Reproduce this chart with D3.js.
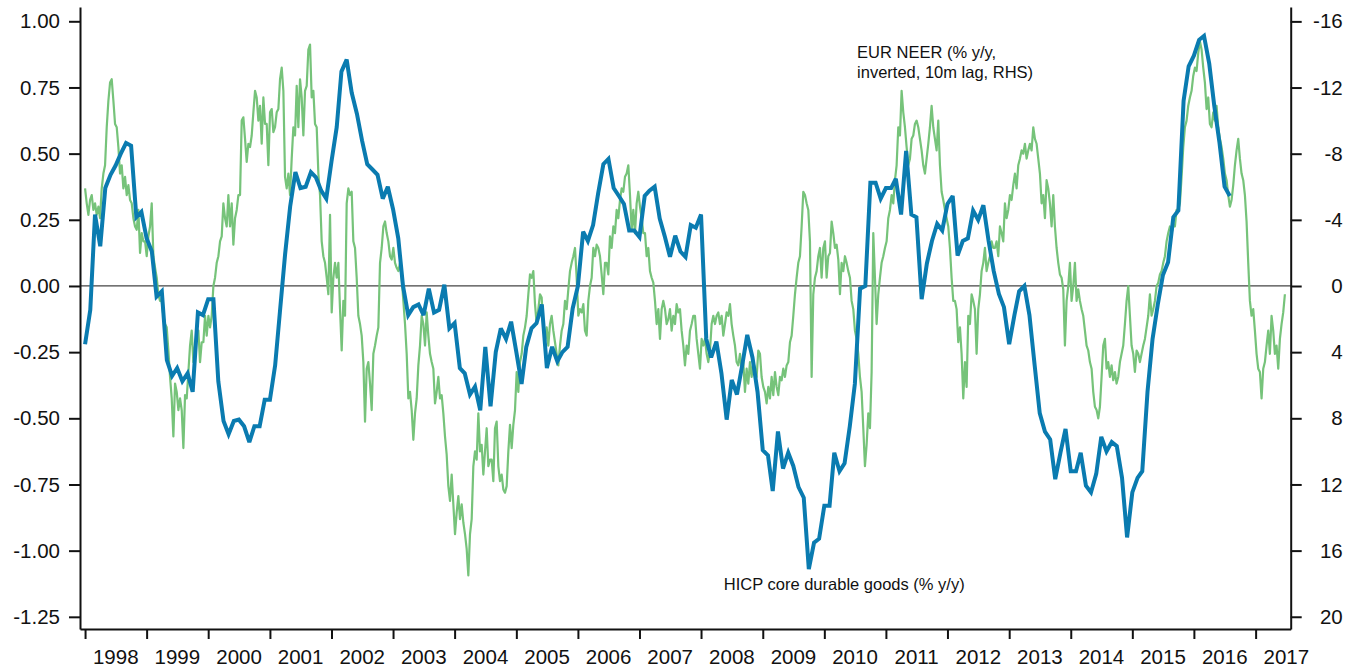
<!DOCTYPE html>
<html>
<head>
<meta charset="utf-8">
<script src="https://cdn.jsdelivr.net/npm/d3@7"></script>
<style>
body{margin:0;background:#fff;}
text{font-family:"Liberation Sans",Arial,sans-serif;fill:#111;}
</style>
</head>
<body>
<div id="chartdiv"></div>
<script>
var svgW=1348,svgH=670;
var plotL=80,plotR=1290.7,plotT=7,plotB=629;
var bluecolor="#0a7bb0",greencolor="#76c37a",axiscolor="#111";

// HICP core durable goods (% y/y), monthly from Jan 1998
var hicpStart=new Date(1998,0,1);
var hicpDurable=[
 -0.22,-0.09,0.27,0.15,0.37,0.42,0.455,0.50,0.54,0.53,0.26,0.28,
 0.18,0.13,-0.04,-0.02,-0.28,-0.34,-0.31,-0.36,-0.33,-0.40,-0.10,-0.11,
 -0.05,-0.05,-0.36,-0.51,-0.56,-0.51,-0.505,-0.53,-0.59,-0.53,-0.53,-0.43,
 -0.43,-0.30,-0.10,0.12,0.30,0.43,0.37,0.375,0.43,0.41,0.36,0.33,
 0.47,0.60,0.81,0.855,0.73,0.65,0.55,0.46,0.44,0.42,0.33,0.375,
 0.29,0.18,0.0,-0.11,-0.08,-0.07,-0.11,-0.01,-0.10,-0.09,0.005,-0.16,
 -0.14,-0.31,-0.33,-0.41,-0.38,-0.47,-0.23,-0.455,-0.25,-0.16,-0.20,-0.135,
 -0.25,-0.37,-0.23,-0.16,-0.14,-0.07,-0.31,-0.23,-0.285,-0.25,-0.23,-0.085,
 0.0,0.205,0.17,0.23,0.35,0.46,0.48,0.37,0.34,0.31,0.21,0.21,
 0.185,0.34,0.36,0.375,0.255,0.185,0.11,0.19,0.13,0.11,0.23,0.22,
 0.27,-0.20,-0.27,-0.21,-0.33,-0.505,-0.355,-0.41,-0.30,-0.185,-0.27,-0.40,
 -0.62,-0.64,-0.775,-0.55,-0.69,-0.63,-0.68,-0.76,-0.80,-1.07,-0.97,-0.955,
 -0.83,-0.83,-0.63,-0.70,-0.67,-0.53,-0.37,-0.01,0.0,0.39,0.39,0.33,
 0.37,0.37,0.405,0.27,0.51,0.27,0.26,-0.05,0.085,0.17,0.235,0.21,
 0.31,0.34,0.115,0.17,0.18,0.285,0.25,0.305,0.17,0.057,-0.03,-0.08,
 -0.22,-0.11,-0.02,0.0,-0.11,-0.30,-0.48,-0.55,-0.58,-0.73,-0.63,-0.54,
 -0.70,-0.70,-0.63,-0.755,-0.78,-0.71,-0.57,-0.625,-0.59,-0.605,-0.725,-0.95,
 -0.78,-0.725,-0.70,-0.40,-0.20,-0.07,0.04,0.09,0.26,0.285,0.70,0.83,
 0.87,0.93,0.945,0.84,0.68,0.54,0.375,0.34
];

// EUR NEER (% y/y, inverted, 10m lag), RHS units, read every ~10 days from 1 Jan 1998
var neerStart=new Date(1998,0,1);
var neerStepDays=9.88;
var neerInv=[
 -5.9,-5.0,-4.3,-5.2,-5.5,-4.6,-5.0,-4.3,-4.8,-4.1,
 -5.9,-6.8,-7.3,-9.6,-11.2,-12.3,-12.5,-11.2,-9.8,-9.6,
 -8.4,-6.8,-7.3,-5.9,-6.6,-5.5,-6.1,-5.2,-5.0,-4.1,
 -3.6,-3.4,-4.6,-2.0,-3.2,-2.7,-2.7,-1.8,-3.0,-3.6,
 -5.0,-1.8,-1.1,-0.5,0.5,0.9,0.9,1.8,2.3,2.5,
 3.9,5.5,6.8,9.1,5.9,6.4,7.5,6.8,7.5,9.8,
 6.6,6.8,5.2,3.6,2.7,4.6,3.6,3.2,2.7,4.6,
 3.4,3.4,1.8,3.0,1.8,2.5,1.8,0,-0.5,-1.4,
 -1.8,-2.7,-3.0,-5.0,-4.1,-3.6,-5.5,-3.6,-5.0,-2.5,
 -4.1,-4.6,-5.5,-5.5,-10.0,-10.2,-8.9,-7.5,-8.6,-8.4,
 -9.1,-10.5,-11.8,-11.4,-10.0,-10.9,-8.6,-11.4,-9.8,-9.8,
 -7.3,-10.5,-10.7,-9.3,-9.6,-10.5,-10.7,-12.5,-13.2,-11.8,
 -6.6,
 -5.9,-6.8,-5.5,-7.7,-9.6,-9.1,-12.1,-9.6,-12.5,-11.4,
 -9.1,-11.8,-12.1,-14.3,-14.6,-11.4,-11.8,-9.8,-9.6,-6.8,
 -5.5,-2.7,-1.8,-1.4,-0.5,0.5,-4.3,1.6,-0.5,-1.4,
 -0.5,-1.4,1.4,3.9,0.9,1.8,-5.0,-5.9,-5.5,-5.7,
 -2.7,-2.3,-0.5,1.8,2.3,3.0,4.6,8.2,5.0,4.6,
 5.9,7.5,4.1,3.6,3.0,2.5,-1.4,-2.3,-3.6,-3.9,
 -3.2,-2.7,-1.8,-1.6,-2.3,-1.4,-1.1,-0.9,-1.4,-0.5,
 0.9,2.3,4.1,6.8,6.4,7.5,9.3,7.7,6.8,4.8,
 3.6,1.8,2.3,3.6,1.6,3.0,4.1,4.6,5.0,7.1,
 6.4,5.5,6.8,6.6,7.7,9.1,10.2,12.1,13.0,11.4,
 13.2,15.0,13.7,12.7,14.1,13.2,14.3,15.0,15.9,17.5,
 15.0,14.1,10.9,10.0,10.5,7.7,10.0,9.6,11.4,10.0,
 8.6,10.9,10.5,
 10.5,11.8,8.6,8.2,10.9,11.8,11.4,12.3,12.5,12.1,
 10.0,8.4,9.8,8.4,7.5,5.2,6.4,4.6,4.1,3.0,
 2.5,1.8,0.5,-0.7,-0.5,-0.9,1.1,2.3,1.4,0.5,
 0.7,2.5,3.4,2.5,3.6,2.3,1.8,2.7,3.4,4.1,
 4.8,3.6,2.7,2.3,0.9,1.4,0.2,-0.9,-1.4,-1.8,
 -2.3,-0.5,1.8,1.4,1.6,1.1,2.7,3.0,0.9,0,
 -0.5,-2.3,-1.8,-2.5,-2.3,-1.8,-0.7,0.5,-1.4,-1.4,
 -0.7,-3.0,-2.3,-3.6,-3.2,-4.6,-4.1,-5.2,-5.9,-5.7,
 -6.6,-6.8,-7.3,-5.5,-3.4,-4.6,-3.2,-5.0,-5.7,-4.8,
 -4.1,-3.2,-3.2,-1.8,-2.3,-0.9,-0.5,-0.2,0.9,2.3,
 1.4,3.2,1.4,0.9,1.4,2.3,2.0,1.4,2.7,1.8,
 2.3,1.1,1.6,1.4,2.7,3.6,4.8,3.6,4.1,2.7,
 2.3,1.8,1.8,
 3.2,4.1,5.0,3.2,3.6,3.2,4.1,4.6,3.9,2.3,
 1.8,2.3,1.8,1.6,2.3,1.8,3.0,2.3,1.6,1.8,
 1.1,2.3,3.0,3.6,4.6,4.8,4.1,5.0,4.6,6.4,
 5.0,5.9,4.6,5.5,4.6,5.0,5.5,3.9,4.1,5.5,
 6.1,6.4,7.1,6.1,6.8,5.5,6.6,5.2,6.1,6.6,
 5.5,5.7,5.0,5.5,4.8,4.6,3.4,3.0,1.8,0.5,
 -0.5,-1.4,-1.8,-3.6,-5.7,-5.5,-5.0,-4.6,-2.7,5.5,
 0.5,-0.5,-0.9,-1.8,-2.3,-0.5,-2.3,-2.7,-0.5,-1.8,
 -2.0,-3.9,-3.2,-2.3,-2.5,-1.6,0.5,-1.4,-0.9,-1.8,
 -1.4,-0.9,-0.5,0.9,1.4,2.7,3.2,4.1,5.5,6.4,
 8.6,10.9,9.6,7.7,8.6,5.2,-3.2,-0.5,2.3,0.5,
 -0.5,-1.4,-1.8,-2.3,-2.7,-4.1,-4.6,-5.5,-5.0,-6.4,
 -7.3,-9.6,-9.1,
 -11.8,-10.5,-9.6,-8.4,-7.3,-7.7,-8.9,-9.1,-9.8,-10.0,
 -9.6,-8.9,-8.2,-7.3,-6.8,-7.7,-8.6,-9.6,-10.9,-9.6,
 -8.9,-8.2,-10.0,-7.3,-5.7,-5.2,-4.6,-4.1,-3.6,-2.3,
 -0.5,0.9,0.9,1.4,3.4,2.5,4.1,6.8,4.6,6.1,
 1.8,2.3,0.5,0.9,1.4,4.1,1.4,0.5,-0.9,-1.4,
 -2.3,-0.9,-1.4,-1.8,-2.7,-2.3,-2.3,-2.7,-1.8,-3.6,
 -3.2,-2.7,-5.0,-4.1,-4.6,-5.5,-5.2,-6.1,-6.8,-5.9,
 -7.3,-7.7,-8.2,-8.0,-8.6,-7.7,-8.2,-8.6,-8.2,-9.6,
 -8.9,-8.6,-7.7,-6.8,-5.0,-5.5,-4.1,-6.4,-5.9,-5.0,
 -3.6,-5.5,-3.6,-2.3,-1.4,-0.7,-0.5,0.2,3.6,0.9,
 0,-1.4,0.9,0,-1.4,0.9,0.2,0.9,1.4,1.8,
 2.7,3.6,3.9,4.6,5.0,6.4,7.3,7.5,8.0,7.3,
 5.5,3.6,3.2,
 5.0,4.6,5.5,4.8,5.7,5.2,5.9,5.5,4.6,4.1,
 3.6,2.3,0.9,0,1.8,3.6,4.1,5.2,3.9,4.1,
 4.6,4.1,3.6,3.2,2.5,1.8,0.5,1.8,1.4,0.9,
 0,-0.2,-0.7,-0.9,-1.4,-1.8,-2.7,-3.2,-3.6,-3.2,
 -3.6,-3.6,-4.6,-4.6,-5.0,-6.6,-8.4,-9.6,-10.0,-10.9,
 -11.4,-11.8,-12.7,-13.2,-13.0,-14.1,-14.8,-14.3,-13.2,-12.3,
 -10.7,-11.4,-9.8,-9.6,-10.5,-10.0,-10.9,-9.6,-8.9,-8.4,
 -7.7,-6.8,-6.4,-5.5,-4.8,-5.2,-6.1,-7.3,-8.2,-8.9,
 -7.7,-6.8,-6.4,-5.5,-3.9,-1.4,0.9,1.8,1.4,2.7,
 4.1,5.0,5.2,6.8,5.0,4.6,3.6,2.7,4.1,1.8,
 2.7,4.1,3.6,5.0,3.2,2.3,1.6,0.5
];

var leftTicks=[1,0.75,0.5,0.25,0,-0.25,-0.5,-0.75,-1,-1.25];
var rightTicks=[-16,-12,-8,-4,0,4,8,12,16,20];
var years=d3.range(1998,2018);

var hicpdata=hicpDurable.map(function(v,i){return {date:d3.timeMonth.offset(hicpStart,i),v:v};});
var neerdata=neerInv.map(function(v,i){return {date:new Date(neerStart.getTime()+i*neerStepDays*86400000),v:v};});

var svg=d3.select("#chartdiv")
    .append("svg")
    .attr("width",svgW)
    .attr("height",svgH);

var x=d3.scaleTime().domain([new Date(1997,11,2),new Date(2017,6,28)]).range([plotL,plotR]);
var yL=d3.scaleLinear().domain([-1.296,1.054]).range([plotB,plotT]);
var yR=d3.scaleLinear().domain([20.74,-16.87]).range([plotB,plotT]);

// zero line
svg.append("line")
    .attr("x1",plotL).attr("x2",plotR)
    .attr("y1",yL(0)).attr("y2",yL(0))
    .attr("stroke","#444").attr("stroke-width",1.2);

var greenline=d3.line().x(function(d){return x(d.date);}).y(function(d){return yR(d.v);});
var blueline=d3.line().x(function(d){return x(d.date);}).y(function(d){return yL(d.v);});

svg.append("path")
    .datum(neerdata)
    .attr("d",greenline)
    .attr("fill","none")
    .attr("stroke",greencolor)
    .attr("stroke-width",2.2)
    .attr("stroke-linejoin","round");

svg.append("path")
    .datum(hicpdata)
    .attr("d",blueline)
    .attr("fill","none")
    .attr("stroke",bluecolor)
    .attr("stroke-width",4)
    .attr("stroke-linejoin","miter")
    .attr("stroke-miterlimit",3);

//axes
var leftaxis=svg.append("g")
    .attr("transform","translate("+plotL+",0)")
    .call(d3.axisLeft(yL).tickValues(leftTicks).tickSize(11).tickSizeOuter(0).tickPadding(9)
        .tickFormat(function(d){return d.toFixed(2);}));

var rightaxis=svg.append("g")
    .attr("transform","translate("+plotR+",0)")
    .call(d3.axisRight(yR).tickValues(rightTicks).tickSize(11).tickSizeOuter(0)
        .tickFormat(function(d){return String(d);}));
rightaxis.selectAll("text").attr("x",52).attr("text-anchor","end");

var bottomaxis=svg.append("g")
    .attr("transform","translate(0,"+plotB+")")
    .call(d3.axisBottom(x).tickValues(years.map(function(y){return new Date(y,0,1);}))
        .tickSize(10).tickSizeOuter(0).tickFormat(""));

[leftaxis,rightaxis,bottomaxis].forEach(function(g){
    g.attr("color",axiscolor).attr("font-size",20.5).attr("font-family","Liberation Sans, Arial, sans-serif");
    g.select(".domain").attr("stroke-width",2);
    g.selectAll(".tick line").attr("stroke-width",2);
});

svg.append("g").selectAll("text")
    .data(years)
    .enter()
    .append("text")
    .attr("x",function(d){return x(new Date(d,6,2));})
    .attr("y",plotB+35)
    .attr("text-anchor","middle")
    .style("font-size","20.5px")
    .text(function(d){return d;});

// series labels
var eurlabel=svg.append("text")
    .attr("x",x(new Date(2010,6,14)))
    .attr("y",yL(0.861))
    .style("font-size","16.5px");
eurlabel.append("tspan").text("EUR NEER (% y/y,");
eurlabel.append("tspan").attr("x",x(new Date(2010,6,14))).attr("dy",19.5).text("inverted, 10m lag, RHS)");

svg.append("text")
    .attr("x",x(new Date(2008,4,15)))
    .attr("y",yL(-1.148))
    .style("font-size","16.5px")
    .text("HICP core durable goods (% y/y)");
</script>
</body>
</html>
